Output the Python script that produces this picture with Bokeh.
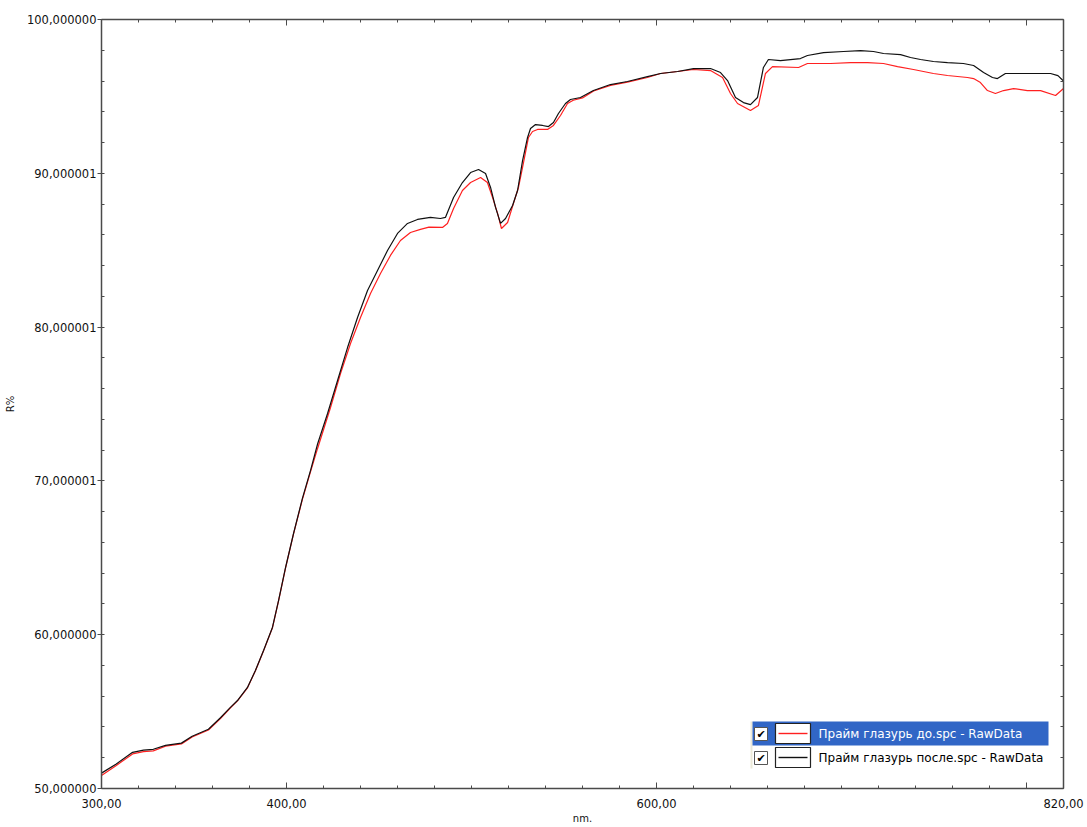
from bokeh.plotting import figure
from bokeh.models import Range1d, LinearAxis, FixedTicker, BoxAnnotation, Label
from bokeh.embed import file_html
from bokeh.resources import INLINE

# ---------------- data ----------------
wl_after = [300.0, 308.0, 316.8, 322.7, 328.0, 334.6, 343.2, 349.0, 357.8, 364.3, 369.7, 373.5,
            378.9, 383.2, 387.6, 392.4, 395.7, 399.5, 403.8, 408.6, 413.0, 416.8, 422.2, 427.6,
            433.0, 438.4, 443.8, 449.2, 454.6, 460.0, 465.4, 470.8, 477.8, 483.2, 485.9, 490.3,
            495.1, 499.5, 503.8, 507.6, 510.3, 513.0, 515.7, 518.4, 522.2, 524.9, 527.6, 530.3,
            531.9, 534.6, 538.4, 541.6, 544.3, 547.0, 550.8, 553.5, 558.9, 565.9, 575.1, 584.3,
            595.1, 602.2, 611.4, 620.0, 629.2, 634.6, 638.4, 642.7, 647.0, 650.8, 654.6, 657.8,
            660.5, 667.0, 677.8, 681.6, 690.3, 701.1, 710.3, 717.3, 722.7, 731.9, 737.3, 742.7,
            749.7, 757.3, 765.9, 771.4, 776.8, 781.6, 784.3, 788.6, 793.0, 800.5, 807.6, 813.0,
            817.0, 820.0]
r_after = [51.0, 51.6, 52.35, 52.5, 52.55, 52.8, 52.95, 53.4, 53.85, 54.6, 55.27, 55.72,
           56.57, 57.67, 58.97, 60.47, 62.22, 64.37, 66.58, 68.86, 70.68, 72.4, 74.38, 76.53,
           78.67, 80.62, 82.38, 83.68, 84.98, 86.09, 86.74, 87.0, 87.13, 87.06, 87.13, 88.43,
           89.40, 90.05, 90.25, 89.99, 89.08, 87.78, 86.74, 87.06, 87.91, 88.88, 90.83, 92.33,
           92.91, 93.17, 93.11, 93.04, 93.30, 93.89, 94.54, 94.80, 94.93, 95.38, 95.77, 95.97,
           96.29, 96.49, 96.62, 96.81, 96.81, 96.55, 96.03, 94.93, 94.60, 94.47, 94.93, 96.88,
           97.40, 97.33, 97.46, 97.66, 97.85, 97.92, 97.98, 97.92, 97.79, 97.72, 97.53, 97.40,
           97.27, 97.20, 97.14, 97.01, 96.55, 96.23, 96.16, 96.49, 96.49, 96.49, 96.49, 96.49,
           96.35, 96.0]

wl_before = [300.0, 308.0, 316.8, 322.7, 328.0, 334.6, 343.2, 349.0, 357.8, 364.3, 369.7, 373.5,
             378.9, 383.2, 387.6, 392.4, 395.7, 399.5, 403.8, 408.6, 413.0, 416.8, 423.8, 429.2,
             434.6, 440.0, 445.4, 450.8, 456.2, 461.6, 467.0, 472.4, 477.0, 484.3, 487.0, 490.3,
             495.1, 499.5, 504.9, 508.6, 511.4, 514.1, 516.2, 519.5, 522.7, 525.4, 527.6, 530.8,
             533.0, 535.7, 541.1, 544.3, 548.1, 551.9, 555.0, 560.0, 566.0, 575.1, 584.3, 595.1,
             602.2, 611.4, 620.0, 629.2, 635.7, 640.0, 643.8, 650.8, 655.1, 658.9, 662.7, 676.8,
             681.6, 694.1, 704.9, 714.1, 722.7, 730.3, 738.9, 749.7, 757.3, 768.1, 771.4, 775.1,
             778.9, 783.2, 787.6, 793.0, 800.5, 807.6, 815.7, 820.0]
r_before = [50.85, 51.5, 52.25, 52.4, 52.45, 52.75, 52.9, 53.35, 53.8, 54.55, 55.25, 55.7,
            56.55, 57.65, 58.95, 60.45, 62.2, 64.35, 66.55, 68.8, 70.6, 72.11, 74.77, 76.98,
            78.93, 80.62, 82.18, 83.48, 84.66, 85.63, 86.15, 86.35, 86.5, 86.48, 86.74, 87.71,
            88.88, 89.40, 89.73, 89.40, 88.43, 87.39, 86.41, 86.80, 88.04, 89.08, 90.38, 92.33,
            92.72, 92.85, 92.85, 93.11, 93.76, 94.54, 94.75, 94.9, 95.35, 95.72, 95.93, 96.23,
            96.49, 96.62, 96.75, 96.68, 96.23, 95.19, 94.54, 94.08, 94.41, 96.49, 96.94, 96.88,
            97.14, 97.14, 97.20, 97.20, 97.14, 96.94, 96.75, 96.49, 96.36, 96.23, 96.16, 95.90,
            95.38, 95.19, 95.38, 95.51, 95.38, 95.38, 95.06, 95.51]

series_names = ["Прайм глазурь до.spc - RawData", "Прайм глазурь после.spc - RawData"]
series_colors = ["#ff2020", "#101010"]

x_ticks = [300, 400, 600, 820]
x_tick_labels = ["300,00", "400,00", "600,00", "820,00"]
x_long_ticks = [400, 600, 800]
y_ticks = [50, 60, 70, 80, 90, 100]
y_tick_labels = ["50,000000", "60,000000", "70,000001", "80,000001", "90,000001", "100,000000"]
x_title = "nm."
y_title = "R%"

X0, X1, Y0, Y1 = 300, 820, 50, 100

# ---------------- figure ----------------
FONT = "DejaVu Sans"
FL, FR, FT, FB = 101, 1063, 19, 788   # frame edges in page pixels
W, H = 1087, 827
p = figure(width=W, height=H, x_range=Range1d(X0, X1), y_range=Range1d(Y0, Y1),
           output_backend="svg", toolbar_location=None,
           min_border_left=FL, min_border_right=W - FR, min_border_top=FT, min_border_bottom=H - FB)
p.outline_line_color = None
p.xgrid.visible = False
p.ygrid.visible = False
p.background_fill_color = "white"
p.border_fill_color = "white"

AX_COL = "#4a4a4a"

def style(ax):
    ax.axis_line_color = AX_COL
    ax.axis_line_width = 1.5
    ax.major_tick_line_color = AX_COL
    ax.minor_tick_line_color = AX_COL
    ax.major_label_text_font = FONT
    ax.major_label_text_font_size = "11.5px"
    ax.major_label_text_color = "#111111"
    ax.axis_label_text_font = FONT
    ax.axis_label_text_font_size = "10px"
    ax.axis_label_text_font_style = "normal"
    ax.axis_label_text_color = "#111111"

minor_x = list(range(300, 821, 20))
minor_y = list(range(50, 101, 2))

xa = p.xaxis[0]
xa.ticker = FixedTicker(ticks=x_ticks, minor_ticks=minor_x)
xa.major_label_overrides = {v: s for v, s in zip(x_ticks, x_tick_labels)}
xa.axis_label = x_title
style(xa)
xa.major_tick_in = 6
xa.major_tick_out = 0
xa.minor_tick_in = 3
xa.minor_tick_out = 0
xa.major_label_standoff = 10
xa.axis_label_standoff = 2

ya = p.yaxis[0]
ya.ticker = FixedTicker(ticks=y_ticks, minor_ticks=minor_y)
ya.major_label_overrides = {v: s for v, s in zip(y_ticks, y_tick_labels)}
ya.axis_label = y_title
style(ya)
ya.major_tick_in = 0
ya.major_tick_out = 4
ya.minor_tick_in = 3
ya.minor_tick_out = 0
ya.major_label_standoff = 1
ya.axis_label_standoff = 8

top = LinearAxis(ticker=FixedTicker(ticks=[], minor_ticks=minor_x))
style(top)
top.minor_tick_in = 3
top.minor_tick_out = 0
top.major_tick_out = 0
p.add_layout(top, "above")

right = LinearAxis(ticker=FixedTicker(ticks=[], minor_ticks=minor_y))
style(right)
right.minor_tick_in = 3
right.minor_tick_out = 0
right.major_tick_out = 0
p.add_layout(right, "right")

# longer major ticks on the top edge (400/600/800) and at 800 on the bottom edge
tick_len = 6 * (Y1 - Y0) / (FB - FT)
n = len(x_long_ticks)
p.segment(x0=x_long_ticks, x1=x_long_ticks, y0=[Y1] * n, y1=[Y1 - tick_len] * n,
          line_color=AX_COL, line_width=1)
p.segment(x0=x_long_ticks[-1:], x1=x_long_ticks[-1:], y0=[Y0], y1=[Y0 + tick_len],
          line_color=AX_COL, line_width=1)

# ---------------- curves ----------------
p.line(wl_before, r_before, line_color=series_colors[0], line_width=1.2)
p.line(wl_after, r_after, line_color=series_colors[1], line_width=1.2)

# ---------------- legend (drawn by hand, positioned in page pixels) ----------------
def dx(px):
    return X0 + (px - FL) * (X1 - X0) / (FR - FL)

def dy(py):
    return Y1 - (py - FT) * (Y1 - Y0) / (FB - FT)

def box(l, t, r, b, fill, line=None, lw=1):
    p.add_layout(BoxAnnotation(left=dx(l), right=dx(r), top=dy(t), bottom=dy(b),
                               fill_color=fill, fill_alpha=1.0,
                               line_color=line, line_width=lw, line_alpha=1.0 if line else 0))

box(750, 721, 752, 768, "#ece9d8")
box(752, 721, 1048, 745, "#3166c6")

rows = [733, 757]
for i, cy in enumerate(rows):
    box(754, cy - 6, 767, cy + 7, "white", "#555555", 1)
    p.add_layout(Label(x=dx(760.5), y=dy(cy + 0.5), text="✔", text_font=FONT, text_font_size="11px",
                       text_color="#000000", text_align="center", text_baseline="middle"))
    box(775, cy - 10, 810, cy + 10, "white", "#222222", 1.2)
    box(778, cy - 0.7, 807, cy + 0.7, series_colors[i])
    p.add_layout(Label(x=dx(818), y=dy(cy), text=series_names[i], text_font=FONT,
                       text_font_size="12px", text_color="white" if i == 0 else "#000000",
                       text_align="left", text_baseline="middle"))

open("out.html", "w").write(file_html(p, INLINE))
